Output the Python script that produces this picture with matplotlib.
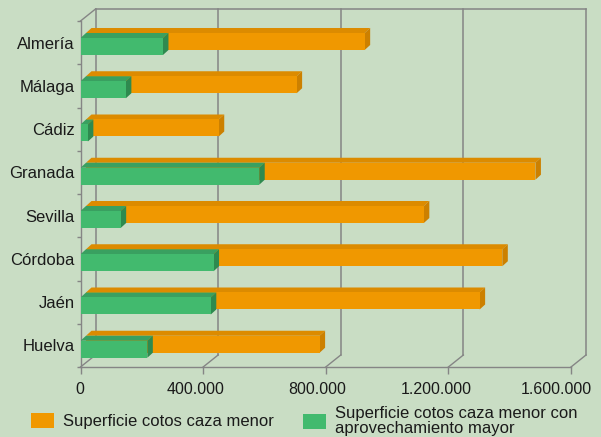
import matplotlib.pyplot as plt
import matplotlib.patches as mpatches
import matplotlib.transforms as mtransforms
from matplotlib.patches import Polygon
from matplotlib.ticker import FuncFormatter

plt.switch_backend('Agg')

# datos (hectáreas aprox.)
provincias = ['Almería', 'Málaga', 'Cádiz', 'Granada', 'Sevilla', 'Córdoba', 'Jaén', 'Huelva']
caza_menor = [909000, 687000, 433000, 1466000, 1102000, 1358000, 1284000, 762000]
aprov_mayor = [269000, 148000, 24000, 583000, 131000, 434000, 425000, 218000]
xticks = [0, 400000, 800000, 1200000, 1600000]

etiqueta_menor = 'Superficie cotos caza menor'
etiqueta_mayor = 'Superficie cotos caza menor con\naprovechamiento mayor'

FONDO = '#c9ddc4'
NAR = ('#f09800', '#dc8b00', '#cc8000')    # frente, arriba, lado
VER = ('#42ba6e', '#39a060', '#2e8a4f')
GRIS = '#858585'

plt.rcParams['font.family'] = ['Liberation Sans', 'DejaVu Sans']

fig = plt.figure(figsize=(6.01, 4.37), dpi=100, facecolor=FONDO)
ax = fig.add_axes([80.5 / 601, 1 - 367 / 437, (571 - 80.5) / 601, (367 - 21) / 437])
ax.set_facecolor('none')

xmax = 1600000
n = len(provincias)
ax.set_xlim(0, xmax)
ax.set_ylim(n - 0.5, -0.5)

# profundidad en unidades de datos
px_x = xmax / (571 - 80.5)
px_y = n / (367 - 21)
wdx, wdy = 15 * px_x, 12 * px_y     # pared del fondo
bdx, bdy = 5.5 * px_x, 5 * px_y     # cada fila de barras


def barra3d(x0, x1, ytop, ybot, colores):
    frente, arriba, lado = colores
    ax.add_patch(Polygon([(x0, ytop), (x1, ytop), (x1 + bdx, ytop - bdy), (x0 + bdx, ytop - bdy)],
                         closed=True, fc=arriba, ec='none', zorder=3))
    ax.add_patch(Polygon([(x1, ytop), (x1 + bdx, ytop - bdy), (x1 + bdx, ybot - bdy), (x1, ybot)],
                         closed=True, fc=lado, ec='none', zorder=3))
    ax.add_patch(Polygon([(x0, ytop), (x1, ytop), (x1, ybot), (x0, ybot)],
                         closed=True, fc=frente, ec='none', zorder=3))


# pared del fondo y suelo
ytop, ybot = -0.5, n - 0.5
for v in xticks:
    ax.plot([v + wdx, v + wdx], [ybot - wdy, ytop - wdy], color=GRIS, lw=1.1, zorder=1, clip_on=False)
    ax.plot([v, v + wdx], [ybot, ybot - wdy], color=GRIS, lw=1.0, zorder=1, clip_on=False)
ax.plot([wdx, xmax + wdx], [ytop - wdy, ytop - wdy], color=GRIS, lw=1.1, zorder=1, clip_on=False)
ax.plot([0, wdx], [ytop, ytop - wdy], color=GRIS, lw=1.0, zorder=1, clip_on=False)

# barras: naranja detrás, verde delante
for i in range(n):
    y0, y1 = i - 0.107, i + 0.286
    barra3d(bdx, caza_menor[i] + bdx, y0 - bdy, y1 - bdy, NAR)
    barra3d(0, aprov_mayor[i], y0, y1, VER)

for s in ['top', 'right']:
    ax.spines[s].set_visible(False)
for s in ['left', 'bottom']:
    ax.spines[s].set_color(GRIS)
    ax.spines[s].set_linewidth(1.0)

ax.set_xticks(xticks)
ax.xaxis.set_major_formatter(FuncFormatter(lambda v, p: f'{int(v):,}'.replace(',', '.')))
ax.tick_params(axis='x', length=5, width=1, color=GRIS, pad=6, labelsize=11.5, labelcolor='#1a1a1a')

# en el original las etiquetas del eje x quedan algo desplazadas a la izquierda
desplaz = [-0.5, -7.7, -8.7, -12, -15]
for lab, d in zip(ax.get_xticklabels(), desplaz):
    lab.set_transform(lab.get_transform() + mtransforms.ScaledTranslation(d / 100, 0, fig.dpi_scale_trans))

ax.set_yticks(range(n))
ax.set_yticklabels(provincias)
ax.set_yticks([k - 0.5 for k in range(n + 1)], minor=True)
ax.tick_params(axis='y', which='major', length=0, pad=4, labelsize=12, labelcolor='#1a1a1a')
ax.tick_params(axis='y', which='minor', length=3, width=1, color=GRIS)

# leyenda
h1 = mpatches.Patch(fc=NAR[0], ec='none')
h2 = mpatches.Patch(fc=VER[0], ec='none')
kw = dict(loc='center left', frameon=False, fontsize=12, borderpad=0, borderaxespad=0,
          handlelength=1.38, handleheight=0.96, handletextpad=0.52, labelcolor='#1a1a1a')
fig.legend([h1], [etiqueta_menor], bbox_to_anchor=(31 / 601, 1 - 421 / 437), **kw)
leg2 = fig.legend([h2], [etiqueta_mayor], bbox_to_anchor=(303 / 601, 1 - 421 / 437), **kw)
for t in leg2.get_texts():
    t.set_linespacing(0.95)

fig.savefig('out.png', dpi=100, facecolor=FONDO)
